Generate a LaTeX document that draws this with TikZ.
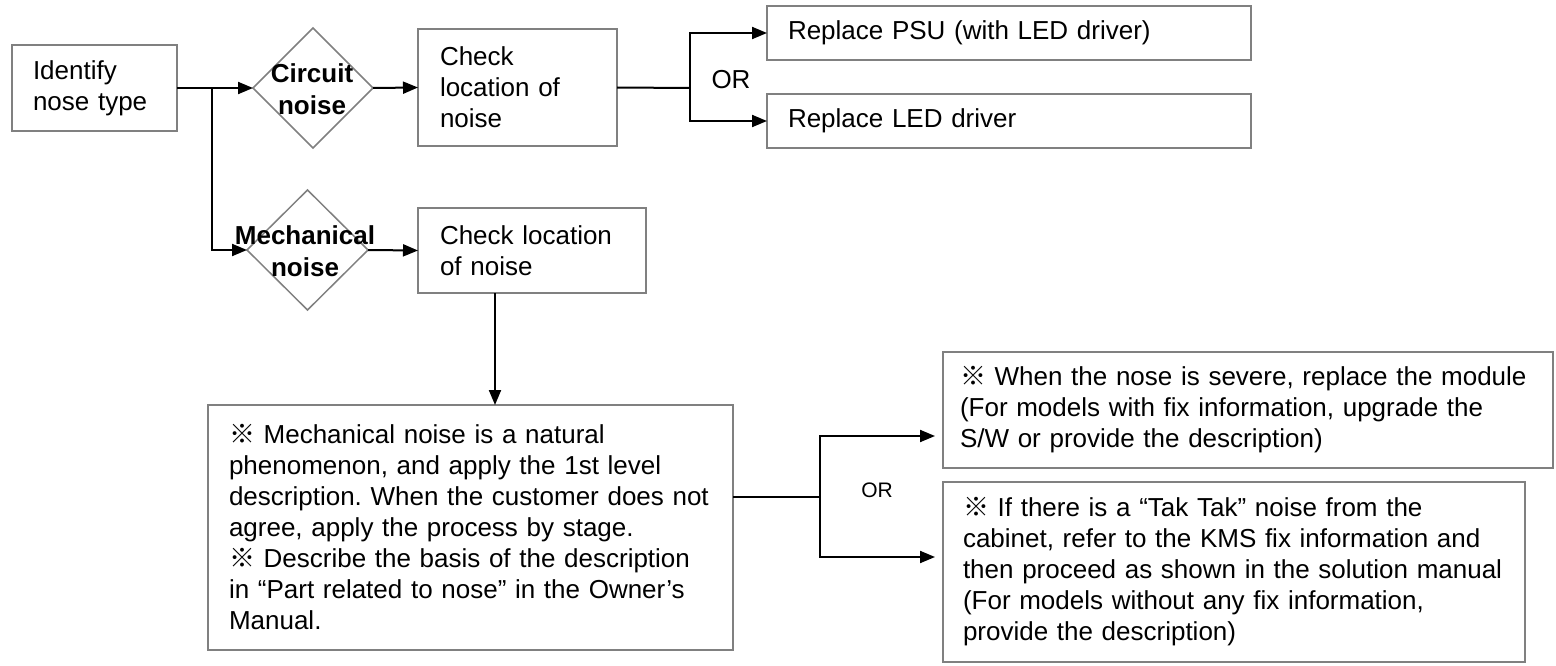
\documentclass[tikz,border=0pt]{standalone}
\usepackage{fontspec}
\setmainfont{Liberation Sans}
\newfontfamily\cjk{Noto Sans CJK SC}
\usetikzlibrary{shapes.geometric,arrows.meta}
\newcommand\rmk{{\cjk ※}\ }
\frenchspacing
\begin{document}
\begin{tikzpicture}[x=1pt,y=-1pt,
  box/.style={draw=gray,line width=2pt,fill=white,align=left,inner ysep=0pt,outer sep=0pt,anchor=north west,font=\fontsize{26}{31}\selectfont\frenchspacing},
  dia/.style={draw=gray,line width=1.5pt,shape=diamond,minimum width=120pt,minimum height=120pt,inner sep=0pt,outer sep=0pt},
  dtext/.style={font=\fontsize{26}{32}\selectfont\bfseries,align=center,inner sep=0pt},
  conn/.style={line width=2pt},
  arr/.style={conn,-{Triangle[length=15pt,width=12pt]}},
  ortext/.style={font=\fontsize{26}{31}\selectfont,inner sep=0pt},
  orsmall/.style={font=\fontsize{21}{25}\selectfont,inner sep=0pt}]
\useasboundingbox (0,0) rectangle (1556,666);

% boxes
\node[box,text width=123pt,inner xsep=21pt,minimum height=86pt] (id) at (12,45) {Identify\\nose type};
\node[box,text width=155pt,inner xsep=22pt,minimum height=117pt] (cb1) at (418,29) {Check\\location of\\noise};
\node[box,text width=184pt,inner xsep=22pt,minimum height=85pt] (cb2) at (418,208) {Check location\\of noise};
\node[box,text width=442pt,inner xsep=21pt,minimum height=54pt] (rp1) at (767,6) {Replace PSU (with LED driver)};
\node[box,text width=442pt,inner xsep=21pt,minimum height=54pt] (rp2) at (767,94) {Replace LED driver};
\node[box,text width=483pt,inner xsep=21pt,minimum height=245pt] (big) at (208,405) {\mbox{\rmk Mechanical noise is a natural}\\\mbox{phenomenon, and apply the 1st level}\\\mbox{description. When the customer does not}\\\mbox{agree, apply the process by stage.}\\\mbox{\rmk Describe the basis of the description}\\\mbox{in “Part related to nose” in the Owner’s}\\Manual.};
\node[box,text width=576pt,inner xsep=17pt,minimum height=116pt] (trb) at (943,352) {\mbox{\rmk When the nose is severe, replace the module}\\\mbox{(For models with fix information, upgrade the}\\S/W or provide the description)};
\node[box,text width=542pt,inner xsep=20pt,minimum height=180pt] (brb) at (943,482) {\mbox{\rmk If there is a “Tak Tak” noise from the}\\\mbox{cabinet, refer to the KMS fix information and}\\\mbox{then proceed as shown in the solution manual}\\\mbox{(For models without any fix information,}\\provide the description)};

% diamonds
\node[dia] (d1) at (313,88) {};
\node[dtext] (d1t) at (312,89) {Circuit\\noise};
\node[dia,minimum width=121pt] (d2) at (307.5,250) {};
\node[dtext] (d2t) at (305,251) {Mechanical\\noise};

% labels
\node[ortext] (or1) at (731,80) {OR};
\node[orsmall] (or2) at (877,490) {OR};

% connectors
\coordinate (j1) at (212,88);
\draw[conn] (id.east) -- (j1);
\draw[arr] (j1) -- (d1.west);
\draw[arr] (j1) |- (d2.west);
\draw[arr] (d1.east) -- (cb1.west);
\draw[arr] (d2.east) -- (cb2.west);
\coordinate (j2) at (690,88);
\draw[conn] (cb1.east) -- (j2);
\draw[arr] (j2) |- (rp1.west);
\draw[arr] (j2) |- (rp2.west);
\coordinate (s1) at (495,293);
\coordinate (e1) at (495,405);
\draw[arr] (s1) -- (e1);
\coordinate (j3) at (820,497);
\coordinate (b1) at (733,497);
\draw[conn] (b1) -- (j3);
\coordinate (a1) at (935,436);
\coordinate (a2) at (935,557);
\draw[arr] (j3) |- (a1);
\draw[arr] (j3) |- (a2);
\end{tikzpicture}
\end{document}
